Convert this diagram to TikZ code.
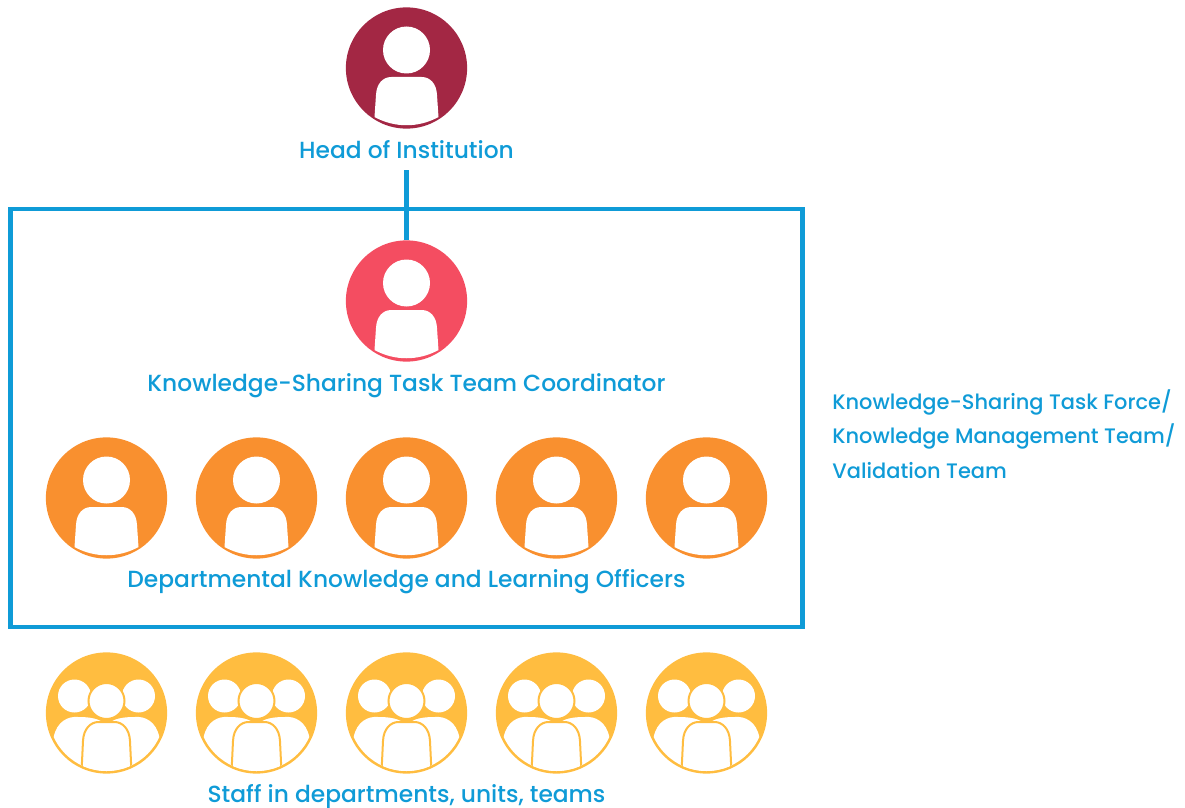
\documentclass[tikz,border=0pt]{standalone}
\usepackage{fontspec}
\setmainfont{Poppins Medium}
\usepackage{tikz}
\usetikzlibrary{positioning}

\definecolor{headred}{HTML}{A32744}
\definecolor{coordred}{HTML}{F44D61}
\definecolor{officerorange}{HTML}{F9902F}
\definecolor{staffyellow}{HTML}{FFBD40}
\definecolor{labelblue}{HTML}{0F9BD7}

\tikzset{
	badge/.style = {circle, minimum size = 3.03cm, inner sep = 0pt},
	caption/.style = {text = labelblue, font = \fontsize{16.6}{16.6}\selectfont, text height = 0.52cm, text depth = 0.1cm, minimum height = 1cm, inner sep = 0pt},
	teamline/.style = {draw = labelblue, line width = 0.115cm},
	pics/person/.style = {code = {
		\fill[white] (0, -18) circle (23.5);
		\fill[white] (-32, 49) -- (-30.5, 27) .. controls (-30, 16) and (-24, 9) .. (-15, 9)
			-- (15, 9) .. controls (24, 9) and (30, 16) .. (30.5, 27) -- (32, 49)
			.. controls (12, 60) and (-12, 60) .. cycle;
	}},
	pics/staff/.style = {code = {
		\begin{scope}
			\clip (0, 0) circle (58);
			\fill[white] (-53, 25) .. controls (-50, 8) and (-38, 3) .. (-28, 4) .. controls (-10, 4) and (-5, 8) .. (0, 12)
				-- (0, 60) -- (-53, 60) -- cycle;
			\fill[white] (53, 25) .. controls (50, 8) and (38, 3) .. (28, 4) .. controls (10, 4) and (5, 8) .. (0, 12)
				-- (0, 60) -- (53, 60) -- cycle;
			\fill[white, draw = staffyellow, line width = 0.05cm] (-25.5, 70) -- (-23.5, 28) .. controls (-23, 16) and (-16, 9) .. (-8, 9)
				-- (8, 9) .. controls (16, 9) and (23, 16) .. (23.5, 28) -- (25.5, 70) -- cycle;
		\end{scope}
		\fill[white] (-32, -17) circle (16.5);
		\fill[white] (32, -17) circle (16.5);
		\fill[white, draw = staffyellow, line width = 0.05cm] (0, -12) circle (18);
	}},
}

\begin{document}
\begin{tikzpicture}[x = 0.025cm, y = -0.025cm]
	\useasboundingbox (0, 0) rectangle (1185, 808);

	\node[badge, fill = headred] (head) at (406.5, 68) {};
	\pic at (head) {person};
	\node[caption] (headlabel) at (406.5, 150) {Head of Institution};

	\node[draw = labelblue, line width = 0.115cm, minimum width = 19.8cm, minimum height = 10.45cm, inner sep = 0pt] (taskforce) at (406.5, 418) {};

	\node[badge, fill = coordred] (coord) at (406.5, 301) {};
	\pic at (coord) {person};
	\node[caption] (coordlabel) at (406.5, 383) {Knowledge-Sharing Task Team Coordinator};

	\draw[teamline] (headlabel) -- (coord);

	\node[badge, fill = officerorange] (officera) at (106.5, 498) {};
	\node[badge, fill = officerorange] (officerb) at (256.5, 498) {};
	\node[badge, fill = officerorange] (officerc) at (406.5, 498) {};
	\node[badge, fill = officerorange] (officerd) at (556.5, 498) {};
	\node[badge, fill = officerorange] (officere) at (706.5, 498) {};
	\pic at (officera) {person};
	\pic at (officerb) {person};
	\pic at (officerc) {person};
	\pic at (officerd) {person};
	\pic at (officere) {person};
	\node[caption] (officerlabel) at (406.5, 579) {Departmental Knowledge and Learning Officers};

	\node[badge, fill = staffyellow] (staffa) at (106.5, 713) {};
	\node[badge, fill = staffyellow] (staffb) at (256.5, 713) {};
	\node[badge, fill = staffyellow] (staffc) at (406.5, 713) {};
	\node[badge, fill = staffyellow] (staffd) at (556.5, 713) {};
	\node[badge, fill = staffyellow] (staffe) at (706.5, 713) {};
	\pic at (staffa) {staff};
	\pic at (staffb) {staff};
	\pic at (staffc) {staff};
	\pic at (staffd) {staff};
	\pic at (staffe) {staff};
	\node[caption, minimum height = 0.6cm] (stafflabel) at (406.5, 794) {Staff in departments, units, teams};

	\node[text = labelblue, anchor = west, align = left, inner sep = 0pt, font = \fontsize{14.9}{24.6}\selectfont] (teamlabel) at (832, 434) {Knowledge-Sharing Task Force/\\Knowledge Management Team/\\Validation Team};
\end{tikzpicture}
\end{document}
